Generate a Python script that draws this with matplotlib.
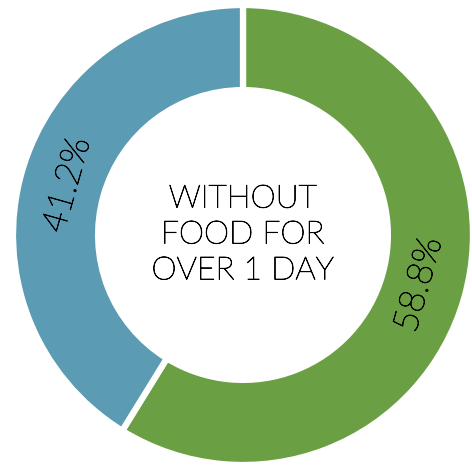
import matplotlib
matplotlib.use('Agg')
import matplotlib.pyplot as plt
import matplotlib.patheffects as pe
import numpy as np

labels = ['58.8%', '41.2%']
values = [58.8, 41.2]
colors = ['#6aa043', '#5b9bb3']
center_text = 'WITHOUT\nFOOD FOR\nOVER 1 DAY'

fig = plt.figure(figsize=(4.72, 4.66), dpi=100)
ax = fig.add_axes([0, 0, 1, 1])

wedges, _ = ax.pie(values, colors=colors, startangle=90, counterclock=False,
                   radius=1.0,
                   wedgeprops=dict(width=0.37, edgecolor='white', linewidth=4.5))

# light font, thickened a little with a stroke
thick = [pe.withStroke(linewidth=0.6, foreground='black')]

# labels sit along the ring, rotated to follow it
for w, lab in zip(wedges, labels):
    mid = (w.theta1 + w.theta2) / 2.0
    r = 0.795
    x = r * np.cos(np.radians(mid))
    y = r * np.sin(np.radians(mid))
    rot = (mid % 180) - 90
    ax.text(x, y, lab, rotation=rot, ha='center', va='center',
            rotation_mode='anchor', fontsize=25.5, family='Lato',
            fontweight='light', color='black', path_effects=thick)

ax.text(0, 0, center_text, ha='center', va='center', fontsize=23,
        family='Lato', fontweight='light', color='black', linespacing=1.3,
        path_effects=thick)

ax.set_xlim(-243 / 230, (472 - 243) / 230)
ax.set_ylim(-(466 - 235) / 230, 235 / 230)
ax.set_aspect('auto')
ax.axis('off')

fig.savefig('out.png', dpi=100)
